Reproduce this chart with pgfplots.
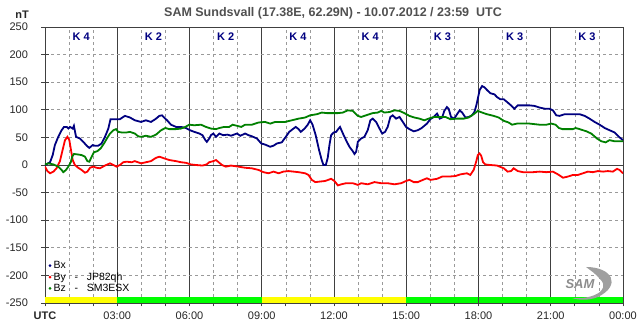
\documentclass[border=0pt]{standalone}
\usepackage{fontspec}
\setmainfont{Liberation Sans}
\usepackage{pgfplots}
\pgfplotsset{compat=1.18}
\usepackage{pgfplotstable}
\definecolor{bxc}{HTML}{000080}
\definecolor{byc}{HTML}{FF0000}
\definecolor{bzc}{HTML}{008000}
\definecolor{axc}{HTML}{404040}
\definecolor{gridc}{HTML}{9A9A9A}
\definecolor{titc}{HTML}{505050}
\definecolor{barY}{HTML}{FFFF00}
\definecolor{barG}{HTML}{00FF00}

\pgfplotstableread{
h v
0 0
0.21 5
0.32 18
0.41 36
0.55 51
0.69 63
0.79 69
0.90 69
0.97 66
1.04 69
1.15 66
1.20 71
1.29 51
1.45 48
1.59 42
1.73 35
1.84 31
1.98 36
2.07 35
2.21 35
2.35 39
2.49 51
2.63 66
2.72 83
2.90 83
3.11 83
3.32 89
3.53 86
3.73 81
3.99 78
4.19 81
4.40 78
4.58 83
4.75 89
4.86 90
4.95 86
5.09 80
5.23 73
5.44 69
5.65 69
5.85 67
6.02 63
6.20 60
6.41 57
6.54 54
6.66 45
6.72 42
6.82 48
6.89 54
6.99 57
7.10 51
7.24 57
7.40 54
7.58 55
7.72 53
7.97 57
8.11 53
8.31 57
8.45 54
8.59 52
8.80 48
8.98 39
9.14 37
9.35 33
9.49 35
9.63 39
9.83 41
10.00 51
10.14 60
10.32 66
10.41 69
10.53 65
10.62 60
10.78 66
10.91 73
11.01 81
11.11 73
11.24 54
11.38 27
11.49 9
11.56 0
11.66 0
11.74 13
11.81 36
11.88 54
11.99 59
12.09 60
12.19 66
12.25 69
12.37 57
12.50 45
12.64 33
12.78 25
12.85 20
12.92 24
12.99 42
13.13 48
13.26 51
13.40 63
13.51 81
13.61 84
13.75 78
13.89 66
14.00 57
14.12 60
14.23 69
14.34 87
14.44 90
14.58 84
14.72 87
14.86 78
14.99 69
15.13 65
15.31 61
15.48 63
15.64 67
15.86 75
16.00 83
16.14 87
16.28 93
16.39 84
16.49 86
16.58 98
16.69 105
16.76 102
16.86 87
17.00 84
17.11 92
17.22 99
17.32 95
17.46 86
17.59 87
17.73 90
17.83 96
17.91 108
17.97 120
18.05 136
18.15 143
18.24 141
18.35 136
18.49 130
18.66 128
18.77 123
18.91 119
19.05 119
19.19 114
19.35 108
19.49 102
19.63 108
19.85 108
20.12 108
20.33 107
20.54 104
20.75 102
20.95 102
21.09 99
21.23 90
21.37 89
21.58 92
21.78 92
21.99 92
22.20 92
22.41 89
22.61 84
22.82 78
23.03 73
23.24 67
23.44 63
23.65 59
23.83 51
24.00 45
}\bxdata

\pgfplotstableread{
h v
0 -3
0.10 -11
0.21 -15
0.35 -12
0.48 -6
0.62 7
0.73 27
0.83 45
0.93 51
1.01 45
1.08 27
1.15 9
1.24 0
1.38 -5
1.52 -9
1.66 -14
1.76 -12
1.87 -5
2.01 -3
2.14 -5
2.28 -6
2.49 -1
2.70 3
2.84 0
2.97 -3
3.11 0
3.25 5
3.39 6
3.60 5
3.73 7
3.99 3
4.19 5
4.40 7
4.61 13
4.75 15
4.95 12
5.16 9
5.44 7
5.65 5
5.85 4
6.06 1
6.27 0
6.54 -1
6.71 1
6.82 5
6.99 7
7.10 9
7.21 5
7.35 0
7.51 -3
7.72 -1
8.04 -3
8.31 -5
8.59 -6
8.87 -9
9.07 -13
9.28 -15
9.49 -12
9.70 -15
9.90 -12
10.11 -11
10.32 -12
10.53 -13
10.80 -15
10.94 -18
11.08 -27
11.22 -31
11.42 -30
11.63 -29
11.88 -25
12.02 -29
12.16 -37
12.30 -35
12.50 -33
12.78 -33
12.99 -36
13.13 -33
13.40 -35
13.68 -31
13.96 -33
14.23 -33
14.51 -35
14.79 -33
14.99 -29
15.13 -27
15.31 -31
15.48 -31
15.69 -27
15.86 -24
16.00 -27
16.28 -25
16.49 -21
16.76 -21
17.04 -20
17.25 -17
17.52 -15
17.66 -18
17.80 -9
17.91 7
17.97 18
18.04 21
18.11 17
18.19 5
18.28 1
18.49 0
18.77 -1
19.05 -6
19.21 -12
19.35 -11
19.46 -6
19.63 -11
19.85 -13
20.26 -13
20.54 -12
20.82 -13
21.09 -12
21.30 -17
21.51 -23
21.71 -21
21.92 -18
22.13 -18
22.34 -15
22.54 -12
22.75 -13
22.96 -11
23.17 -12
23.37 -11
23.58 -12
23.75 -7
23.86 -9
24.00 -15
}\bydata

\pgfplotstableread{
h v
0 1
0.14 3
0.35 1
0.55 -3
0.69 -9
0.76 -13
0.87 -9
0.97 -3
1.07 5
1.13 15
1.20 20
1.38 19
1.52 18
1.66 15
1.76 7
1.84 6
1.94 15
2.03 23
2.17 25
2.31 30
2.45 39
2.57 48
2.70 57
2.84 63
2.95 65
3.04 60
3.18 59
3.39 59
3.53 60
3.73 57
3.87 52
3.99 51
4.19 53
4.40 51
4.61 55
4.82 63
5.00 67
5.16 65
5.44 65
5.65 66
5.83 69
5.99 73
6.20 72
6.48 73
6.68 69
6.89 66
7.10 65
7.24 67
7.44 69
7.65 69
7.79 73
7.97 71
8.15 69
8.31 73
8.59 73
8.87 77
9.14 78
9.35 75
9.56 78
9.97 78
10.25 81
10.53 84
10.80 86
11.01 90
11.29 92
11.49 95
11.70 94
12.16 94
12.37 95
12.57 99
12.78 98
12.99 89
13.13 87
13.33 90
13.61 94
13.82 95
13.96 98
14.09 95
14.30 96
14.51 99
14.72 98
14.92 94
15.13 89
15.34 86
15.55 84
15.75 81
15.93 84
16.14 87
16.42 87
16.63 87
16.83 83
17.11 84
17.39 84
17.59 86
17.80 92
17.97 98
18.15 95
18.35 92
18.63 89
18.84 86
19.05 80
19.25 77
19.39 73
19.60 75
19.85 75
20.12 75
20.54 73
20.82 73
21.02 75
21.20 73
21.34 67
21.48 65
21.71 65
21.92 65
22.03 67
22.20 65
22.48 61
22.68 57
22.92 48
23.10 43
23.28 41
23.44 45
23.65 43
23.86 43
24.00 43
}\bzdata

\begin{document}
\begin{tikzpicture}[x=1pt,y=1pt]
\useasboundingbox (0,0) rectangle (643,331);
\begin{axis}[
  at={(45pt,28pt)}, anchor=south west,
  width=578pt, height=276pt, scale only axis,
  xmin=0, xmax=24, ymin=-250, ymax=250,
  xtick={0,3,...,24},
  xticklabels={\textbf{UTC},03:00,06:00,09:00,12:00,15:00,18:00,21:00,00:00},
  minor xtick={1,2,4,5,7,8,10,11,13,14,16,17,19,20,22,23},
  ytick={-250,-200,...,250},
  yticklabels={-250,-200,-150,-100,-50,0,50,100,150,200,250},
  xmajorgrids, xminorgrids, ymajorgrids,
  major x grid style={axc, line width=0.8pt},
  minor x grid style={gridc, dashed, line width=0.6pt},
  major y grid style={gridc, dashed, line width=0.6pt},
  axis line style={axc, line width=0.8pt},
  tick style={axc, line width=0.8pt},
  tick align=center,
  major tick length=7pt, minor tick length=7pt,
  xtick pos=lower, ytick pos=left,
  ticklabel style={font=\fontsize{11}{13}\selectfont, text=black!85},
  yticklabel style={xshift=-10pt},
  xticklabel style={yshift=-2pt},
  legend style={at={(0.004,0.025)}, anchor=south west, draw=none, fill=none,
    font=\fontsize{10.5}{12}\selectfont, row sep=-1.5pt, inner sep=1pt},
  legend cell align=left,
  legend image code/.code={\fill[#1, draw=none] (1.5pt,0) circle (1.5pt);},
  clip=true,
]
\addplot[fill=barY, draw=none, forget plot] coordinates {(0,-250) (3,-250) (3,-239) (0,-239)} --cycle;
\addplot[fill=barG, draw=none, forget plot] coordinates {(3,-250) (9,-250) (9,-239) (3,-239)} --cycle;
\addplot[fill=barY, draw=none, forget plot] coordinates {(9,-250) (15,-250) (15,-239) (9,-239)} --cycle;
\addplot[fill=barG, draw=none, forget plot] coordinates {(15,-250) (17.97,-250) (17.97,-239) (15,-239)} --cycle;
\addplot[fill=barG, draw=none, forget plot] coordinates {(18.04,-250) (24,-250) (24,-239) (18.04,-239)} --cycle;
\addplot[axc, line width=0.9pt, forget plot] coordinates {(0,0) (24,0)};
\addplot[bxc, line width=1.8pt] table[x=h,y=v] {\bxdata};
\addplot[byc, line width=1.8pt] table[x=h,y=v] {\bydata};
\addplot[bzc, line width=1.8pt] table[x=h,y=v] {\bzdata};
\legend{Bx, By\ \ \ -\ \ \ JP82qh, Bz\ \ \ -\ \ \ SM3ESX}
\node[text=bxc, font=\bfseries\fontsize{11}{13}\selectfont] at (axis cs:1.5,232) {K 4};
\node[text=bxc, font=\bfseries\fontsize{11}{13}\selectfont] at (axis cs:4.5,232) {K 2};
\node[text=bxc, font=\bfseries\fontsize{11}{13}\selectfont] at (axis cs:7.5,232) {K 2};
\node[text=bxc, font=\bfseries\fontsize{11}{13}\selectfont] at (axis cs:10.5,232) {K 4};
\node[text=bxc, font=\bfseries\fontsize{11}{13}\selectfont] at (axis cs:13.5,232) {K 4};
\node[text=bxc, font=\bfseries\fontsize{11}{13}\selectfont] at (axis cs:16.5,232) {K 3};
\node[text=bxc, font=\bfseries\fontsize{11}{13}\selectfont] at (axis cs:19.5,232) {K 3};
\node[text=bxc, font=\bfseries\fontsize{11}{13}\selectfont] at (axis cs:22.5,232) {K 3};
\end{axis}
\node[text=titc, font=\bfseries\fontsize{12.5}{14}\selectfont] at (333,318) {SAM Sundsvall (17.38E, 62.29N) - 10.07.2012 / 23:59\ \ UTC};
\node[text=black!85, font=\bfseries\fontsize{11}{13}\selectfont] at (22,316) {nT};
% SAM logo
\fill[gray!75] (586,64) .. controls (612,64) and (622,46) .. (598,34) .. controls (588,30) and (578,31) .. (572,33) .. controls (590,31) and (612,40) .. (600,52) .. controls (596,57) and (590,61) .. (586,64) -- cycle;
\node[text=gray!90, font=\bfseries\itshape\fontsize{13}{13}\selectfont] at (580,47) {SAM};
\end{tikzpicture}
\end{document}
